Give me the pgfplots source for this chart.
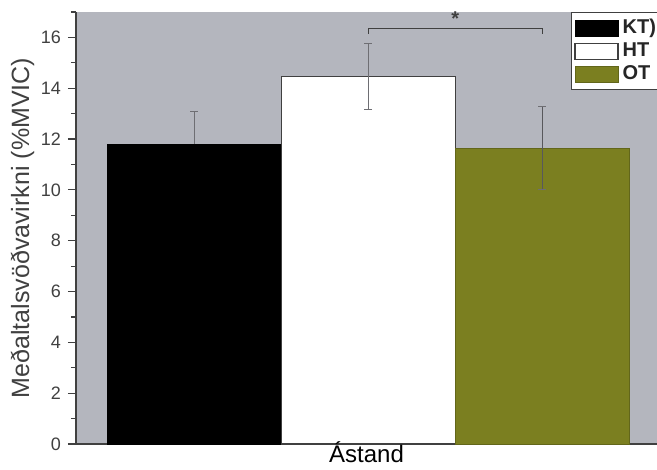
\documentclass[border=0pt]{standalone}
\usepackage{pgfplots}
\pgfplotsset{compat=1.18}
\usepackage{fontspec}
\setmainfont{Liberation Sans}
\definecolor{bggray}{RGB}{180,182,190}
\definecolor{olive}{RGB}{123,127,32}
\definecolor{errgray}{RGB}{110,110,115}
\begin{document}
\begin{tikzpicture}
\begin{axis}[
  scale only axis,
  width=290.5pt, height=216pt,
  xmin=-0.68, xmax=2.66,
  ymin=0, ymax=17,
  axis x line=bottom, axis y line=left,
  axis line style={-, darkgray, line width=0.8pt},
  axis background/.style={fill=bggray},
  xtick=\empty,
  ytick={0,2,...,16},
  minor ytick={1,3,...,17},
  tick align=outside,
  major tick length=4pt, minor tick length=2.5pt,
  tick style={darkgray, line width=0.6pt},
  /pgf/number format/assume math mode=true,
  yticklabel style={font=\fontsize{9}{10}\selectfont, text=darkgray},
  ylabel={Meðaltalsvöðvavirkni (\%MVIC)},
  ylabel style={font=\fontsize{12.5}{14}\selectfont, text=darkgray, yshift=-3.5pt},
  xlabel={Ástand},
  xlabel style={font=\fontsize{12}{14}\selectfont, text=black, yshift=6.5pt, inner sep=1pt},
  ybar, bar width=1, bar shift=0pt,
  legend style={at={(0.852,1)}, anchor=north west, draw=darkgray, fill=white,
    font=\fontsize{10}{11}\selectfont\bfseries, row sep=-1pt, inner sep=1.5pt,
    cells={anchor=west, text=black!85}},
  legend image code/.code={\draw[#1] (0pt,-4pt) rectangle (21.5pt,4pt);},
  clip=false,
]
\addplot[fill=black, draw=black,
  error bars/.cd, y dir=plus, y explicit,
  error bar style={errgray, line width=0.4pt},
  error mark options={rotate=90, errgray, mark size=2pt, line width=0.4pt}]
  coordinates {(0,11.8) +- (0,1.3)};
\addlegendentry{KT)}
\addplot[fill=white, draw=darkgray, line width=0.6pt,
  error bars/.cd, y dir=both, y explicit,
  error bar style={errgray, line width=0.4pt},
  error mark options={rotate=90, errgray, mark size=2pt, line width=0.4pt}]
  coordinates {(1,14.47) +- (0,1.29)};
\addlegendentry{HT}
\addplot[fill=olive, draw=olive!80!black,
  error bars/.cd, y dir=both, y explicit,
  error bar style={errgray!80!black, line width=0.4pt},
  error mark options={rotate=90, errgray, mark size=2pt, line width=0.4pt}]
  coordinates {(2,11.65) +- (0,1.63)};
\addlegendentry{OT}
\addplot[sharp plot, draw=darkgray, line width=0.6pt, forget plot, mark=none]
  coordinates {(1,16.15) (1,16.35) (2,16.35) (2,16.15)};
\node[font=\fontsize{10}{11}\selectfont\bfseries, text=darkgray] at (axis cs:1.5,16.72) {*};
\end{axis}
\pgfresetboundingbox
\useasboundingbox (-38pt,-13pt) rectangle (290.5pt,222pt);
\end{tikzpicture}
\end{document}
